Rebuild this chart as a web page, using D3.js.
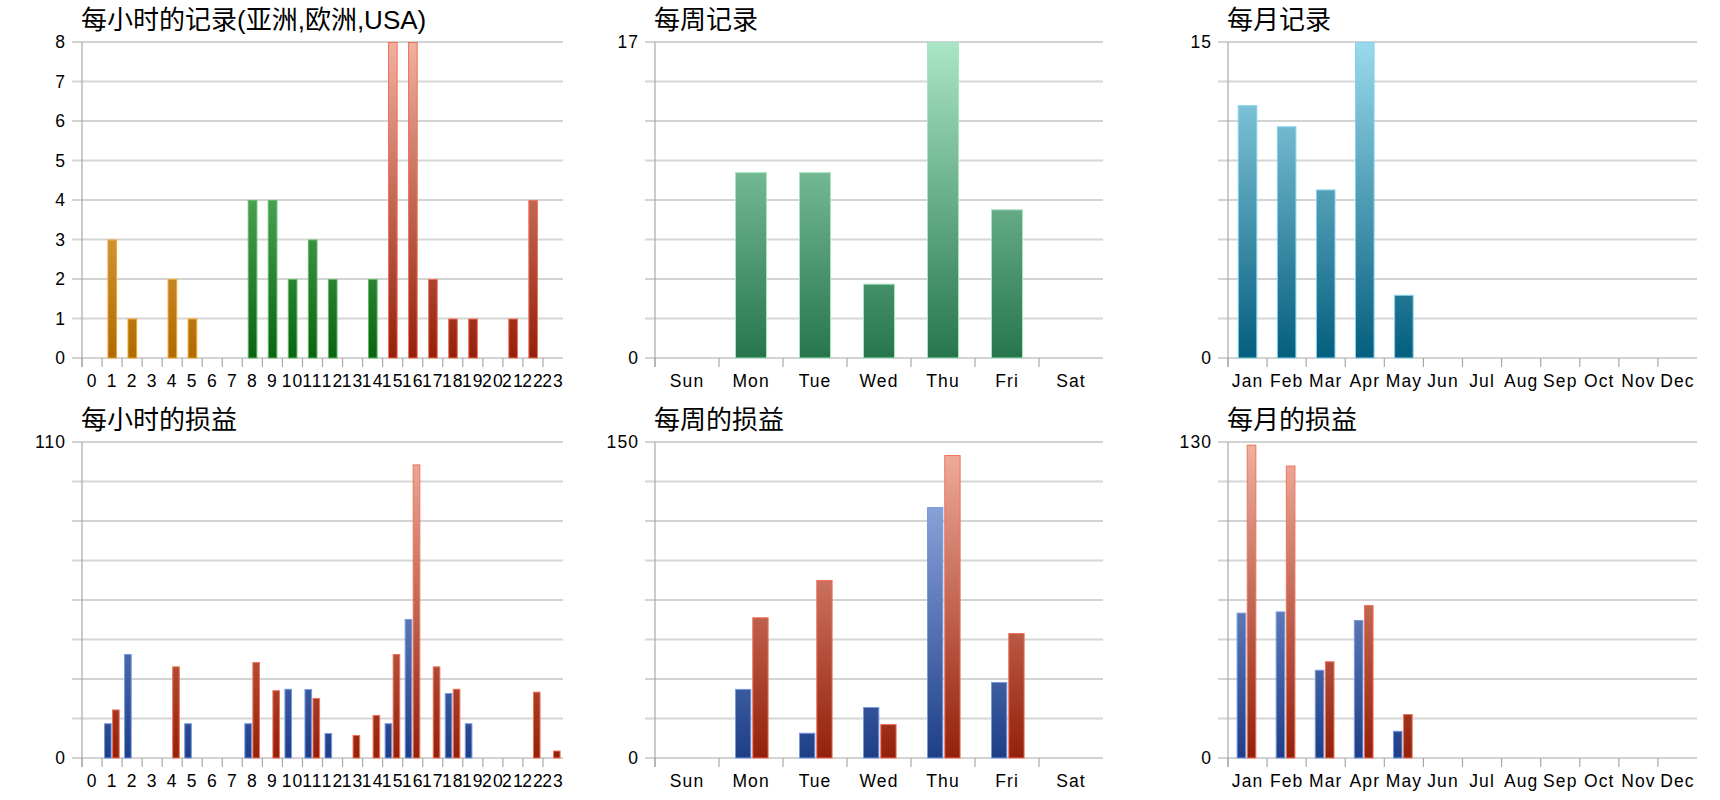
<!DOCTYPE html>
<html><head><meta charset="utf-8">
<script src="https://cdn.jsdelivr.net/npm/d3@7/dist/d3.min.js"></script>
<style>
html,body{margin:0;padding:0;background:#fff;}
svg{display:block;}
text{font-family:"Liberation Sans",Arial,"Noto Sans CJK SC",sans-serif;fill:#000;}
</style></head><body>
<svg id="c" width="1720" height="800"></svg>
<script>
// ---------- data ----------
const hourLabels = d3.range(24).map(String);
const weekdayLabels = ["Sun","Mon","Tue","Wed","Thu","Fri","Sat"];
const monthLabels = ["Jan","Feb","Mar","Apr","May","Jun","Jul","Aug","Sep","Oct","Nov","Dec"];

const titles = ["每小时的记录(亚洲,欧洲,USA)","每周记录","每月记录","每小时的损益","每周的损益","每月的损益"];
const yMaxima = [8,17,15,110,150,130];
const hourTickLabels = ["0","1","2","3","4","5","6","7","8"];

const hourlyRecords  = [0,3,1,0,2,1,0,0,4,4,2,3,2,0,2,8,8,2,1,1,0,1,4,0];
const hourlyRegion   = ["asia","asia","asia","asia","asia","asia","asia","asia",
                        "europe","europe","europe","europe","europe","europe","europe",
                        "usa","usa","usa","usa","usa","usa","usa","usa","usa"];
const weeklyRecords  = [0,10,10,4,17,8,0];
const monthlyRecords = [12,11,8,15,3,0,0,0,0,0,0,0];

const hourlyPLBlue  = [0,12.1,36.2,0,0,12.1,0,0,12.1,0,24.1,24.0,8.7,0,0,12.1,48.4,0,22.6,12.1,0,0,0,0];
const hourlyPLRed   = [0,16.9,0,0,31.9,0,0,0,33.4,23.6,0,20.9,0,8.0,15.0,36.2,102.2,31.9,24.1,0,0,0,23.1,2.6];
const weeklyPLBlue  = [0,32.8,12.0,24.2,119.1,36.1,0];
const weeklyPLRed   = [0,66.8,84.5,16.1,143.8,59.3,0];
const monthlyPLBlue = [59.8,60.3,36.3,56.8,11.2,0,0,0,0,0,0,0];
const monthlyPLRed  = [128.9,120.3,39.8,62.9,18.1,0,0,0,0,0,0,0];

// ---------- styles ----------
const palettes = {
  asia:   {top:"#ffd890", bottom:"#b06a00", stroke:"#f5a52a"},
  europe: {top:"#8cd894", bottom:"#0a6410", stroke:"#5cbc62"},
  usa:    {top:"#f2b0a0", bottom:"#94200a", stroke:"#ee7258"},
  week:   {top:"#aae6c6", bottom:"#26764c", stroke:"#a6e4c4"},
  month:  {top:"#9adaec", bottom:"#045e7e", stroke:"#86d2ea"},
  blue:   {top:"#a4bcec", bottom:"#1e3e88", stroke:"#7898e0"},
  red:    {top:"#f2b0a0", bottom:"#94200a", stroke:"#ee7258"}
};
const cols = [{x0:82,x1:563},{x0:655,x1:1103},{x0:1228,x1:1697}];
const rows = [{y0:42,y1:358},{y0:442,y1:758}];
const LS = 1.1;       // tick label letter spacing
const FS = 17.5;      // tick label font size
const svg = d3.select("#c");
const defs = svg.append("defs");
let gid = 0;
function grad(pal, y0, y1){
  const id = "g"+(gid++);
  const g = defs.append("linearGradient").attr("id",id)
    .attr("gradientUnits","userSpaceOnUse").attr("x1",0).attr("x2",0).attr("y1",y0).attr("y2",y1);
  g.append("stop").attr("offset","0").attr("stop-color",pal.top);
  g.append("stop").attr("offset","1").attr("stop-color",pal.bottom);
  return "url(#"+id+")";
}

function panel(opt){
  const c = cols[opt.col], r = rows[opt.row];
  const g = svg.append("g");
  const x = d3.scaleBand().domain(opt.cats).range([c.x0,c.x1]).paddingInner(0).paddingOuter(0);
  const y = d3.scaleLinear().domain([0,opt.max]).range([r.y1,r.y0]);
  const bw = x.bandwidth();
  // grid
  const gridVals = d3.range(9).map(i=>opt.max*i/8);
  gridVals.forEach((v,i)=>{
    g.append("line").attr("x1",c.x0-10).attr("x2",c.x1)
      .attr("y1",y(v)).attr("y2",y(v))
      .attr("stroke", i%2===0 ? "#a8a8a8" : "#d6d6d6")
      .attr("stroke-width", i%2===0 ? 1.2 : 2);
  });
  // y axis line
  g.append("line").attr("x1",c.x0).attr("x2",c.x0).attr("y1",r.y0).attr("y2",r.y1+9)
    .attr("stroke","#a8a8a8").attr("stroke-width",1.2);
  // x ticks at band starts
  opt.cats.forEach(k=>{
    g.append("line").attr("x1",x(k)).attr("x2",x(k)).attr("y1",r.y1).attr("y2",r.y1+9)
      .attr("stroke","#a8a8a8").attr("stroke-width",1.2);
  });
  // x labels
  g.selectAll("text.xl").data(opt.cats).join("text").attr("class","xl")
    .attr("x",k=>x(k)+bw/2-0.5+LS/2).attr("y",r.y1+28.5)
    .attr("text-anchor","middle").attr("font-size",FS).attr("letter-spacing",LS).text(k=>k);
  // y labels
  g.selectAll("text.yl").data(opt.yLabels).join("text").attr("class","yl")
    .attr("x",c.x0-17+LS).attr("y",d=>y(d.v)).attr("dy","0.36em")
    .attr("text-anchor","end").attr("font-size",FS).attr("letter-spacing",LS).text(d=>d.t);
  // title
  g.append("text").attr("x",c.x0-1).attr("y",r.y0-13.5)
    .attr("font-size",26).text(opt.title);
  // bars
  opt.series.forEach((s,si)=>{
    s.values.forEach((v,i)=>{
      if(!v) return;
      const pal = palettes[typeof s.pal==="function" ? s.pal(i) : s.pal];
      const fill = grad(pal, r.y0, r.y1);
      const w = bw*opt.barFrac;
      const start = x(opt.cats[i]) + bw*opt.offset + si*(w + bw*opt.innerGap);
      g.append("rect").attr("x",start+0.5).attr("y",y(v)+0.5)
        .attr("width",Math.max(w-1,1)).attr("height",Math.max(y(0)-y(v)-0.5,0))
        .attr("fill",fill).attr("stroke",pal.stroke).attr("stroke-width",1);
    });
  });
}

panel({col:0,row:0,cats:hourLabels,max:yMaxima[0],title:titles[0],
  yLabels:hourTickLabels.map(t=>({v:+t,t:t})),
  series:[{values:hourlyRecords,pal:i=>hourlyRegion[i]}],
  barFrac:0.48,offset:0.27,innerGap:0});
panel({col:1,row:0,cats:weekdayLabels,max:yMaxima[1],title:titles[1],
  yLabels:[{v:0,t:"0"},{v:yMaxima[1],t:String(yMaxima[1])}],
  series:[{values:weeklyRecords,pal:"week"}],
  barFrac:0.5,offset:0.25,innerGap:0});
panel({col:2,row:0,cats:monthLabels,max:yMaxima[2],title:titles[2],
  yLabels:[{v:0,t:"0"},{v:yMaxima[2],t:String(yMaxima[2])}],
  series:[{values:monthlyRecords,pal:"month"}],
  barFrac:0.5,offset:0.25,innerGap:0});
panel({col:0,row:1,cats:hourLabels,max:yMaxima[3],title:titles[3],
  yLabels:[{v:0,t:"0"},{v:yMaxima[3],t:String(yMaxima[3])}],
  series:[{values:hourlyPLBlue,pal:"blue"},{values:hourlyPLRed,pal:"red"}],
  barFrac:0.38,offset:0.1,innerGap:0.02});
panel({col:1,row:1,cats:weekdayLabels,max:yMaxima[4],title:titles[4],
  yLabels:[{v:0,t:"0"},{v:yMaxima[4],t:String(yMaxima[4])}],
  series:[{values:weeklyPLBlue,pal:"blue"},{values:weeklyPLRed,pal:"red"}],
  barFrac:0.255,offset:0.25,innerGap:0.015});
panel({col:2,row:1,cats:monthLabels,max:yMaxima[5],title:titles[5],
  yLabels:[{v:0,t:"0"},{v:yMaxima[5],t:String(yMaxima[5])}],
  series:[{values:monthlyPLBlue,pal:"blue"},{values:monthlyPLRed,pal:"red"}],
  barFrac:0.245,offset:0.22,innerGap:0.015});
</script>
</body></html>
